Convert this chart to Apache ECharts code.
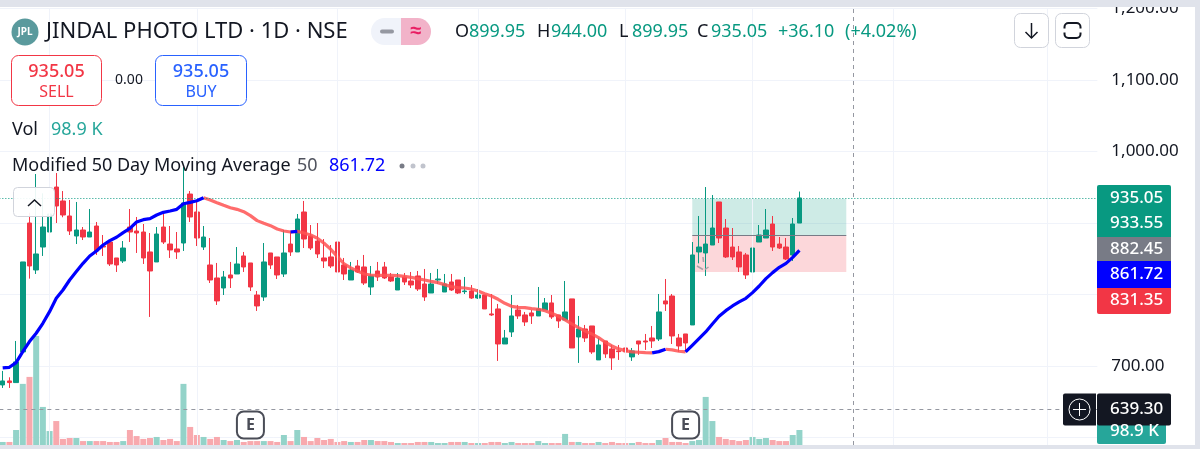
<!DOCTYPE html>
<html>
<head>
  <meta charset="utf-8">
  <title>JINDAL PHOTO LTD</title>
  <style>
    html, body { margin: 0; padding: 0; background: #fff; }
    #main { width: 1200px; height: 449px; }
  </style>
</head>
<body>
<div id="main"></div>
<script src="https://cdn.jsdelivr.net/npm/echarts@6/dist/echarts.min.js"></script>
<script>
  // daily candles
  var opens = [
    673.5,679.1,676.8,719.7,900,834.3,866.4,887.4,950.3,930.8,
    909.8,881.8,890.2,880.4,895.8,867.8,873.4,851.1,846.9,894.4,
    888.8,887.4,859.5,845.5,894.4,870.6,863.7,872,940.5,915.4,
    866.4,841.3,823.1,809.1,827.3,828.7,853.9,844.1,799.3,796.5,
    858.1,852.5,828.7,870.6,859.5,915.4,881.8,874.8,851.1,852.5,
    873.4,841.3,820.3,839.9,838.5,810.5,832.9,838.5,824.5,806.3,
    824.5,818.9,825.9,814.7,802.1,820.3,803.5,817.5,820.3,804,
    804.9,795.1,799.3,772.8,779.8,730.8,747.6,778.4,771.4,774.2,
    770,778.4,788.2,771.4,764.4,793.8,740.6,751.8,756,708.5,
    735,723.9,721.1,725.2,712.7,735,735,739.2,737.8,791,
    797.9,739.2,744.8,757.4,859.5,858.1,869.2,929.4,893,866.4,
    859.5,855.3,831.5,873.4,879,898.6,870.6,866.4,855.3,899.95
  ];
  var closes = [
    679.1,676.8,705.7,845.5,839.9,856.7,894.4,912.6,923.8,911.2,
    888.8,890.2,880.4,887.4,860.9,866.4,842.7,841.3,865,887.4,
    886,851.1,832.9,884.6,873.4,862.3,859.5,928,908.4,879,
    880.4,820.3,791,824.5,823.1,842.7,838.5,810.5,784,845.5,
    841.3,827.3,858.1,859.5,905.6,877.6,865,856.7,846.9,839.9,
    831.5,828.7,834.3,831.5,816.1,825.9,824.5,823.1,818.9,823.1,
    817.5,813.3,807.7,796.5,814.7,821.7,814.7,806.3,802.1,804.9,
    795.1,799.3,779.8,771.4,730.8,739.2,770,770,761.6,770,
    779.8,788.2,768.6,763,775.6,725.2,751.8,739.2,719.7,729.4,
    716.9,711.3,720.1,719.7,721.1,730.8,733.6,735,775.6,786.8,
    742,728,732.2,855.3,866.4,870.6,893,879,852.5,852.5,
    838.5,827.3,865,883.2,890.2,866.4,865,849.7,898.6,935.05
  ];
  var lows = [
    669.3,669.3,676.8,719.7,822.2,828.7,853.9,870.6,900,908,
    883.2,870.6,876.2,880.4,855.3,853.9,839.9,831.5,844.1,873.4,
    858.1,842.7,768.6,845.5,870.6,851.1,849.7,860.9,901.4,867.8,
    862.3,816.1,785.4,799.3,809.1,828.7,831.5,804.9,777,791,
    835.7,821.7,824.5,853.9,859.5,865,862.3,851.1,837.1,837.1,
    830.1,820.3,820.3,830.1,813.3,799.3,818.9,821.7,817.5,806.3,
    813.3,809.1,804.9,791,802.1,814.7,803.5,804.9,800.7,800.7,
    793.8,793.8,779.8,770,707.1,730.8,740.6,765.8,756,758.8,
    770,778.4,765.8,753.2,764.4,725.2,704.3,733.6,716.9,708.5,
    711.3,694.5,708.5,709.9,707.1,715.5,722.5,725.2,735,777,
    730.8,719.7,721.1,757.4,843.6,825.9,869.2,872,851.1,848.3,
    831.5,821.7,828.7,873.4,879,860.9,863.7,848.3,846.9,899.95
  ];
  var highs = [
    693.1,684.2,735,845.5,914.4,968.5,941.5,940.5,969.9,944.7,
    932.2,929.4,894.4,919.6,901.4,883.2,876.2,851.1,874.8,919.6,
    908.4,898.6,886,894.4,912.6,895.8,887.4,978.3,944.7,929.4,
    895.8,879,844.1,832.9,845.5,866.4,859.5,844.1,804.9,872,
    858.1,852.5,890.2,887.4,912.6,930.8,897.2,900,877.6,869.2,
    873.4,851.1,845.5,848.3,855.3,839.9,845.5,845.5,830.1,830.1,
    830.1,831.5,832.9,835.7,830.1,835.7,828.7,828.7,820.3,824.5,
    813.3,807.7,799.3,800.7,786.8,750.4,799.3,785.4,775.6,778.4,
    810.5,795.1,799.3,771.4,818.9,793.8,770,757.4,756,739.2,
    735,729.4,729.4,750.4,725.2,735,744.8,756,800.7,821.7,
    800.7,744.8,744.8,873.4,909.8,950.3,939.1,929.4,905.6,893,
    867.8,858.1,890.2,897.2,919.6,909.8,880.4,879,907,944
  ];
  // volume in thousands
  var volumes = [
    20,20,99,403,449,719,251,92,158,40,
    46,46,26,26,26,26,20,20,26,99,
    59,40,46,53,33,40,26,403,119,66,
    53,40,53,33,26,33,20,26,26,26,
    26,20,66,26,99,53,26,46,33,40,
    20,26,20,20,33,33,26,26,20,13,
    13,13,20,20,20,13,13,20,20,20,
    13,13,13,20,20,13,20,13,13,13,
    26,13,13,13,73,20,20,13,13,20,
    13,20,13,13,13,20,13,13,33,46,
    20,20,13,26,33,317,158,53,40,33,
    26,33,53,40,46,33,26,26,66,98.9
  ];
  // modified 50 day moving average
  var maValues = [
    697.3,698.2,704.7,720.1,734.1,745.8,759.7,776,794.7,806.3,
    820.3,832,843.6,853.9,860.9,869.2,875.3,880,886.5,892.5,
    901.4,904.7,906.1,911.2,914.9,916.8,919.1,927,928.9,931.2,
    935.4,932.2,928.4,924.7,921.4,919.1,915.8,910.3,903.3,899.5,
    896.3,891.6,888.8,887.4,888.3,886,883.2,878.6,871.6,863.2,
    852.9,842.7,837.1,832.9,828.7,827.3,826.8,826.8,826.8,826.4,
    825.4,824,822.2,820.3,818.4,816.6,813.8,811,809.6,809.1,
    807.7,804.9,801.2,797.9,793.3,787.7,783.5,782.1,781.6,780.2,
    779.3,777.4,773.7,769.5,764.4,758.8,753.7,749,744.8,739.7,
    733.2,728,723.9,721.5,719.7,719.2,718.7,718.3,720.1,723.4,
    722.5,720.6,719.7,729,738.3,747.6,758.8,769.5,777.4,784,
    789.6,794.7,802.6,811.9,822.2,830.6,838,843.6,852,861.72
  ];
  // [from, to] bar index where the average is drawn blue, red in between
  var maRisingRanges = [[0, 30], [43, 44], [97, 99], [102, 119]];

  var monthTicks = [7, 29, 50, 71, 93, 112, 133, 156];
  var earningsBars = [37, 102];
  var barSlots = 164;

  var lastPrice = 935.05;
  var crossPrice = 639.30;
  var crossBar = 127;
  var targetPrice = 933.55;
  var entryPrice = 882.45;
  var stopPrice = 831.35;
  var positionBars = [103, 126];

  var ohlcText = ['899.95', '944.00', '899.95', '935.05'];
  var changeText = '+36.10';
  var changePctText = '(+4.02%)';
  var tagTexts = ['935.05', '933.55', '882.45', '861.72', '831.35'];

  var GREEN = '#089981', RED = '#f23645', BLUE = '#0000ff', INK = '#131722';
  var FONT = '"Noto Sans", sans-serif';

  var categories = [];
  for (var i = 0; i < barSlots; i++) categories.push(String(i));

  var candles = [];
  for (var i = 0; i < opens.length; i++) candles.push([opens[i], closes[i], lows[i], highs[i]]);

  // split the average into the blue and the red line
  var maBlue = [], maRed = [];
  for (var i = 0; i < maValues.length; i++) {
    var rising = false, edge = false;
    for (var r = 0; r < maRisingRanges.length; r++) {
      if (i >= maRisingRanges[r][0] && i <= maRisingRanges[r][1]) rising = true;
      if (i == maRisingRanges[r][0] || i == maRisingRanges[r][1]) edge = true;
    }
    maBlue.push(rising ? maValues[i] : null);
    maRed.push(!rising || edge ? maValues[i] : null);
  }

  function txt(x, y, text, size, color, extra) {
    var style = { x: x, y: y, text: text, fill: color, verticalAlign: 'middle',
      font: (extra && extra.weight ? extra.weight + ' ' : '') + size + 'px ' + FONT,
      align: extra && extra.align ? extra.align : 'left' };
    return { type: 'text', z: 30, silent: true, style: style };
  }
  function box(x, y, w, h, r, fill, stroke, z) {
    return { type: 'rect', z: z || 20, silent: true, shape: { x: x, y: y, width: w, height: h, r: r },
      style: { fill: fill, stroke: stroke || null, lineWidth: stroke ? 1 : 0 } };
  }
  function stroke(points, color, width) {
    return { type: 'polyline', z: 30, silent: true, shape: { points: points },
      style: { stroke: color, lineWidth: width, fill: null } };
  }

  var graphics = [
    // card edges
    box(0, 0, 1200, 7, 0, '#e0e3eb', null, 25),
    box(0, 445, 1200, 4, 0, '#e0e3eb', null, 25),
    box(1195, 0, 5, 449, 0, '#e0e3eb', null, 25),

    // title row
    { type: 'circle', z: 20, silent: true, shape: { cx: 25, cy: 32, r: 13.5 }, style: { fill: '#5a9a9d' } },
    txt(25, 32, 'JPL', 10, '#fff', { align: 'center', weight: 'bold' }),
    txt(46, 32, 'JINDAL PHOTO LTD · 1D · NSE', 22, INK),
    box(371, 18, 31, 27, [13.5, 0, 0, 13.5], '#f0f3fa'),
    box(401, 18, 30, 27, [0, 13.5, 13.5, 0], '#f2b3c9'),
    box(380, 29.5, 14, 4, 2, '#9598a1'),
    txt(416, 31, '≈', 20, '#e91e63', { align: 'center', weight: 'bold' }),

    txt(455, 32, 'O', 18, INK), txt(469, 32, ohlcText[0], 18, GREEN),
    txt(537, 32, 'H', 18, INK), txt(551, 32, ohlcText[1], 18, GREEN),
    txt(619, 32, 'L', 18, INK), txt(632, 32, ohlcText[2], 18, GREEN),
    txt(697, 32, 'C', 18, INK), txt(711, 32, ohlcText[3], 18, GREEN),
    txt(778, 32, changeText, 18, GREEN),
    txt(845, 32, changePctText, 18, GREEN),

    // order buttons
    box(11.5, 55.5, 90, 50, 7, '#fff', RED),
    txt(56.5, 72, ohlcText[3], 18, RED, { align: 'center', weight: 500 }),
    txt(56.5, 92, 'SELL', 16, RED, { align: 'center' }),
    txt(129, 80, '0.00', 14, INK, { align: 'center' }),
    box(155.5, 55.5, 91, 50, 7, '#fff', '#2962ff'),
    txt(201, 72, ohlcText[3], 18, '#2962ff', { align: 'center', weight: 500 }),
    txt(201, 92, 'BUY', 16, '#2962ff', { align: 'center' }),

    // study legend
    txt(12, 130, 'Vol', 18, INK),
    txt(51, 130, '98.9 K', 18, '#26a69a'),
    txt(12, 166, 'Modified 50 Day Moving Average', 18, INK),
    txt(297, 166, '50', 18, '#50535e'),
    txt(329, 166, '861.72', 18, BLUE),
    { type: 'circle', z: 20, silent: true, shape: { cx: 402, cy: 166, r: 2.5 }, style: { fill: '#787b86' } },
    { type: 'circle', z: 20, silent: true, shape: { cx: 413, cy: 166, r: 2.5 }, style: { fill: '#c1c4cd' } },
    { type: 'circle', z: 20, silent: true, shape: { cx: 423, cy: 166, r: 2.5 }, style: { fill: '#c1c4cd' } },

    // collapse button
    box(13.5, 187.5, 41, 29, 4, 'rgba(255,255,255,0.92)', '#d1d4dc'),
    stroke([[28, 206], [34.5, 200], [41, 206]], INK, 1.5),

    // small gray arrow of the position tool
    stroke([[697, 266], [703, 269.5]], '#a9a3a8', 1.5),
    stroke([[705, 269.5], [708.5, 267]], '#a9a3a8', 1.5),
    stroke([[703, 257], [703.5, 262]], '#a9a3a8', 1.5),

    // top right buttons
    box(1014.5, 13.5, 34, 34, 6, '#fff', '#d1d4dc'),
    stroke([[1031.5, 23], [1031.5, 38]], INK, 1.5),
    stroke([[1025.5, 32], [1031.5, 38], [1037.5, 32]], INK, 1.5),
    box(1055.5, 13.5, 34, 34, 6, '#fff', '#d1d4dc'),
    { type: 'rect', z: 30, silent: true, shape: { x: 1064.5, y: 23, width: 16, height: 15, r: 4 },
      style: { fill: null, stroke: INK, lineWidth: 2 } },
    box(1062, 28.5, 21, 4, 0, '#fff', null, 31),

    // price tags on the axis
    box(1097, 185, 74, 52, [2, 2, 0, 0], GREEN),
    box(1097, 237, 74, 24, 0, '#787b86'),
    box(1097, 261, 74, 27, 0, BLUE),
    box(1097, 288, 74, 26, [0, 0, 2, 2], RED),
    txt(1110, 198, tagTexts[0], 17, '#fff', { weight: 500 }),
    txt(1110, 223, tagTexts[1], 17, '#fff', { weight: 500 }),
    txt(1110, 249.5, tagTexts[2], 17, '#fff', { weight: 500 }),
    txt(1110, 274.5, tagTexts[3], 17, '#fff', { weight: 500 }),
    txt(1110, 300.5, tagTexts[4], 17, '#fff', { weight: 500 }),

    // volume tag, crosshair tag and plus button
    box(1097, 420, 69, 24, [0, 0, 2, 2], '#26a69a'),
    txt(1110, 431.5, '98.9 K', 17, '#fff', { weight: 500 }),
    box(1097, 393.5, 74, 32, 2, '#131722', null, 21),
    txt(1110, 409.5, crossPrice.toFixed(2), 17, '#fff', { weight: 500 }),
    box(1063, 393.5, 33, 32, [2, 0, 0, 2], '#131722', null, 21),
    { type: 'circle', z: 30, silent: true, shape: { cx: 1079.5, cy: 409.5, r: 10.5 },
      style: { fill: null, stroke: '#fff', lineWidth: 1 } },
    stroke([[1073, 409.5], [1086, 409.5]], '#fff', 1),
    stroke([[1079.5, 403], [1079.5, 416]], '#fff', 1)
  ];

  var monthLines = [];
  for (var i = 0; i < monthTicks.length; i++) monthLines.push({ xAxis: monthTicks[i] });

  var earningsMarks = [];
  for (var i = 0; i < earningsBars.length; i++) {
    earningsMarks.push({ coord: [earningsBars[i], 617.5], value: 'E' });
  }

  var chart = echarts.init(document.getElementById('main'));
  chart.setOption({
    animation: false,
    backgroundColor: '#fff',
    graphic: graphics,
    grid: [
      { left: -0.65, width: 1098, top: 8.5, height: 500.5, outerBoundsMode: 'none' },
      { left: -0.65, width: 1098, top: 8.5, height: 436.5, outerBoundsMode: 'none' }
    ],
    xAxis: [
      { type: 'category', gridIndex: 0, data: categories, show: false },
      { type: 'category', gridIndex: 1, data: categories, show: false }
    ],
    yAxis: [
      {
        type: 'value', gridIndex: 0, position: 'right', min: 500, max: 1200, interval: 100,
        axisLine: { show: false }, axisTick: { show: false },
        splitLine: { lineStyle: { color: '#f0f3fa', width: 1 } },
        axisLabel: {
          margin: 14, color: INK, fontFamily: FONT, fontSize: 17,
          formatter: function (v) { return v.toLocaleString('en-US', { minimumFractionDigits: 2 }); }
        }
      },
      { type: 'value', gridIndex: 1, min: 0, max: 2878, show: false }
    ],
    series: [
      {
        // month lines, under everything else
        name: 'Months', type: 'line', data: [], z: 1, silent: true,
        markLine: {
          silent: true, symbol: 'none', label: { show: false },
          lineStyle: { color: '#f0f3fa', width: 1, type: 'solid' }, data: monthLines
        }
      },
      {
        // long position box
        name: 'Position', type: 'line', data: [], z: 2, silent: true,
        markArea: {
          silent: true,
          data: [
            [{ coord: [positionBars[0], targetPrice], itemStyle: { color: 'rgba(8,153,129,0.2)' } },
              { coord: [positionBars[1], entryPrice] }],
            [{ coord: [positionBars[0], entryPrice], itemStyle: { color: 'rgba(242,54,69,0.2)' } },
              { coord: [positionBars[1], stopPrice] }]
          ]
        }
      },
      {
        name: 'Vol', type: 'bar', xAxisIndex: 1, yAxisIndex: 1, z: 2, barWidth: 6, data: volumes,
        itemStyle: {
          color: function (p) {
            return closes[p.dataIndex] >= opens[p.dataIndex] ? '#93d3c9' : '#f8a9ae';
          }
        }
      },
      {
        name: 'JINDAL PHOTO LTD', type: 'candlestick', z: 3, barWidth: 5, data: candles,
        itemStyle: { color: GREEN, color0: RED, borderColor: GREEN, borderColor0: RED, borderWidth: 1 },
        markLine: {
          silent: true, symbol: 'none', label: { show: false },
          data: [
            { yAxis: lastPrice, lineStyle: { color: GREEN, type: [1, 2], width: 1 } },
            [{ coord: [positionBars[0], entryPrice], lineStyle: { color: '#787b86', type: 'solid', width: 1 } },
              { coord: [positionBars[1], entryPrice] }]
          ]
        }
      },
      {
        name: 'Modified 50 Day Moving Average', type: 'line', z: 4, data: maRed, symbol: 'none', connectNulls: false,
        lineStyle: { color: 'rgba(255,82,82,0.85)', width: 3.2 }
      },
      {
        name: 'Modified 50 Day Moving Average up', type: 'line', z: 5, data: maBlue, symbol: 'none', connectNulls: false,
        lineStyle: { color: BLUE, width: 3.2 }
      },
      {
        // crosshair and earnings marks
        name: 'Overlay', type: 'line', data: [], z: 6, silent: true,
        markLine: {
          silent: true, symbol: 'none', label: { show: false },
          lineStyle: { color: '#9598a1', type: [4, 4], width: 1 },
          data: [{ yAxis: crossPrice }, { xAxis: crossBar }]
        },
        markPoint: {
          silent: true, symbol: 'roundRect', symbolSize: 27,
          itemStyle: { color: '#fff', borderColor: '#4a4d57', borderWidth: 2 },
          label: { show: true, formatter: 'E', color: '#4a4d57', fontFamily: FONT, fontWeight: 'bold', fontSize: 16 },
          data: earningsMarks
        }
      }
    ]
  });

  window.onresize = function () {
    chart.resize();
  };
</script>
</body>
</html>
